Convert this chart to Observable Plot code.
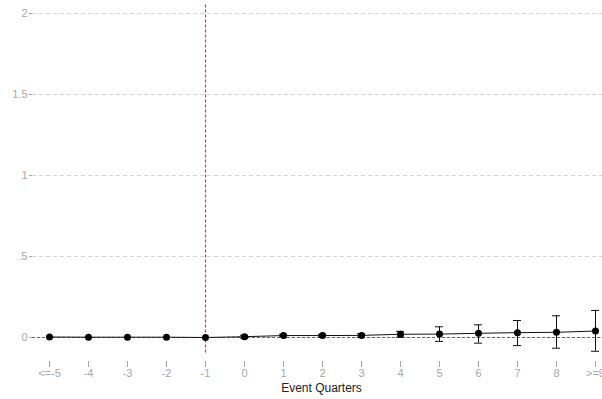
<!DOCTYPE html>
<html>
<head>
<meta charset="utf-8">
<script src="https://cdn.jsdelivr.net/npm/d3@7"></script>
<script src="https://cdn.jsdelivr.net/npm/@observablehq/plot@0.6"></script>
<style>
  html, body { margin: 0; padding: 0; background: #fff; overflow: hidden; }
  svg { font-family: "Liberation Sans", Arial, sans-serif; }
</style>
</head>
<body>
<div id="chart"></div>
<script>
const quarters = ["<=-5", "-4", "-3", "-2", "-1", "0", "1", "2", "3", "4", "5", "6", "7", "8", ">=9"];
const estimates = [0.003, 0.002, 0.002, 0.002, 0, 0.005, 0.012, 0.012, 0.013, 0.02, 0.021, 0.026, 0.03, 0.032, 0.04];
const lower =     [0.001, 0.000, 0.000, 0.000, 0, -0.004, 0.004, 0.004, 0.002, 0.002, -0.024, -0.035, -0.05, -0.066, -0.085];
const upper =     [0.005, 0.004, 0.004, 0.004, 0, 0.014, 0.02, 0.02, 0.024, 0.038, 0.066, 0.078, 0.105, 0.134, 0.167];
const yTicks = [0, 0.5, 1, 1.5, 2];
const yTickLabels = ["0", ".5", "1", "1.5", "2"];
const xTitle = "Event Quarters";
const eventQuarter = "-1";

const data = quarters.map((q, i) => ({q, est: estimates[i], lo: lower[i], hi: upper[i]}));
const ciData = data.filter(d => d.hi - d.lo > 0.006);

const chart = Plot.plot({
  width: 602,
  height: 399,
  marginLeft: 32,
  marginRight: 0,
  marginTop: 3,
  marginBottom: 38,
  x: {type: "point", domain: quarters, range: [46, 597], padding: 0, align: 0.5},
  y: {domain: [0, 2], range: [337, 13]},
  marks: [
    Plot.ruleY(yTicks, {y: d => d, stroke: "#d6d6d6", strokeWidth: 1, strokeDasharray: "4,3"}),
    Plot.ruleY([0], {stroke: "#d03a3a", strokeWidth: 1.2, strokeDasharray: "3,2"}),
    Plot.ruleX([eventQuarter], {x: d => d, y1: -0.095, y2: 2.06, stroke: "#d03a3a", strokeWidth: 1.2, strokeDasharray: "3,2"}),
    Plot.axisY({ticks: yTicks, tickFormat: d => yTickLabels[yTicks.indexOf(d)], tickSize: 3, tickPadding: 2, fontSize: 11, color: "#a8a8a8", label: null}),
    Plot.axisX({tickSize: 6, tickPadding: 2, fontSize: 11, color: "#a8a8a8", label: null}),
    Plot.text([xTitle], {frameAnchor: "bottom", dx: 4, dy: 30, fontSize: 12, fill: "#222"}),
    Plot.line(data, {x: "q", y: "est", stroke: "#111", strokeWidth: 1}),
    Plot.ruleX(ciData, {x: "q", y1: "lo", y2: "hi", stroke: "#111", strokeWidth: 1}),
    Plot.ruleY(ciData, {x1: "q", x2: "q", y: "lo", stroke: "#111", strokeWidth: 1, insetLeft: -4, insetRight: -4}),
    Plot.ruleY(ciData, {x1: "q", x2: "q", y: "hi", stroke: "#111", strokeWidth: 1, insetLeft: -4, insetRight: -4}),
    Plot.dot(data, {x: "q", y: "est", r: 3.5, fill: "#000", stroke: "none"})
  ]
});
document.getElementById("chart").appendChild(chart);
</script>
</body>
</html>
